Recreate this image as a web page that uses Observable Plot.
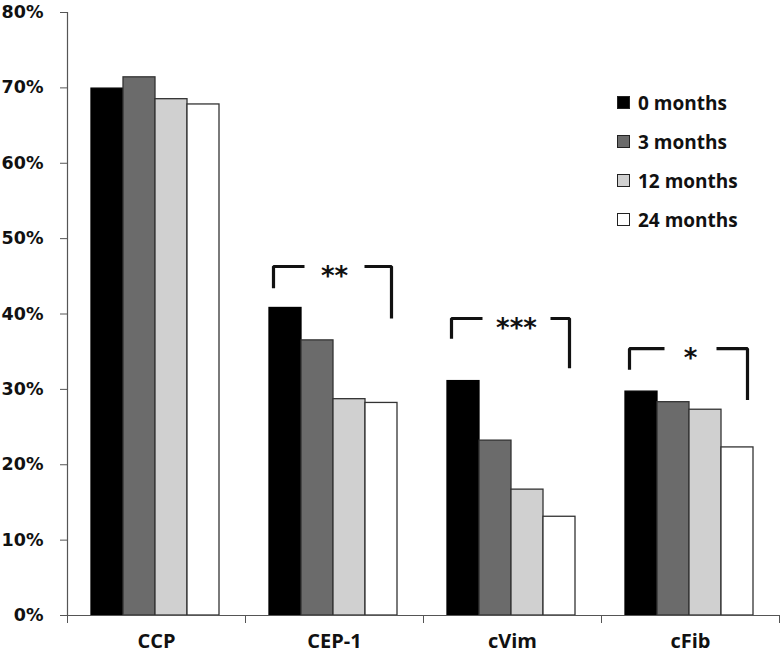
<!DOCTYPE html>
<html>
<head>
<meta charset="utf-8">
<script src="https://cdn.jsdelivr.net/npm/d3@7"></script>
<script src="https://cdn.jsdelivr.net/npm/@observablehq/plot@0.6"></script>
<style>
  html, body { margin: 0; padding: 0; background: #fff; }
  #wrap { position: relative; width: 780px; height: 656px; }
  #legend { position: absolute; left: 617px; top: 83px; font-family: "Open Sans", sans-serif; font-weight: 700; font-size: 19px; color: #111; }
  .row { display: flex; align-items: center; height: 39px; }
  .sw { width: 11px; height: 11px; border: 1px solid #222; margin-right: 8px; }
</style>
</head>
<body>
<div id="wrap"><div id="legend"></div></div>
<script>
const categories = ["CCP", "CEP-1", "cVim", "cFib"];
const series = ["0 months", "3 months", "12 months", "24 months"];
const months0 = [69.9, 40.8, 31.1, 29.7];
const months3 = [71.4, 36.5, 23.2, 28.3];
const months12 = [68.5, 28.7, 16.7, 27.3];
const months24 = [67.8, 28.2, 13.1, 22.3];
const yTicks = [0, 10, 20, 30, 40, 50, 60, 70, 80];

const sigCategories = ["CEP-1", "cVim", "cFib"];
const sigLabels = ["**", "***", "*"];
const bracketTop = [46.3, 39.4, 35.4];
const bracketLeftEnd = [43.4, 36.7, 32.6];
const bracketRightEnd = [39.4, 32.8, 28.6];

const seriesValues = [months0, months3, months12, months24];
const colors = ["#000000", "#6b6b6b", "#d0d0d0", "#ffffff"];

// layout in category units (one category = 1)
const bw = 32 / 178, pad = 24 / 178;

const rows = categories.flatMap((c, i) => series.map((s, j) => ({cat: c, ci: i, s, sj: j, value: seriesValues[j][i]})));

const bracketLines = [];
const starText = [];
sigCategories.forEach((c, k) => {
  const ci = categories.indexOf(c);
  const xl = ci + pad + 4 / 178;
  const xr = ci + pad + 4 * bw - 6 / 178;
  const xc = ci + 0.5 + (sigLabels[k].length === 3 ? 4 / 178 : 0);
  const gap = (22 + 4 * sigLabels[k].length) / 178;
  bracketLines.push({k, side: "L", x: xl, y: bracketLeftEnd[k]});
  bracketLines.push({k, side: "L", x: xl, y: bracketTop[k]});
  bracketLines.push({k, side: "L", x: xc - gap, y: bracketTop[k]});
  bracketLines.push({k, side: "R", x: xc + gap, y: bracketTop[k]});
  bracketLines.push({k, side: "R", x: xr, y: bracketTop[k]});
  bracketLines.push({k, side: "R", x: xr, y: bracketRightEnd[k]});
  starText.push({x: xc, y: bracketTop[k], label: sigLabels[k]});
});

const chart = Plot.plot({
  width: 780,
  height: 656,
  marginLeft: 67,
  marginRight: 1,
  marginTop: 12,
  marginBottom: 41,
  style: {fontFamily: "'Open Sans', sans-serif", background: "#fff", color: "#111"},
  x: {domain: [0, 4], axis: null},
  y: {domain: [0, 80], axis: null},
  color: {domain: series, range: colors},
  marks: [
    Plot.rectY(rows, {
      x1: d => d.ci + pad + d.sj * bw,
      x2: d => d.ci + pad + (d.sj + 1) * bw,
      y: "value",
      fill: "s",
      stroke: d => d.sj === 0 ? "#000" : "#333",
      strokeWidth: 1.3
    }),
    Plot.ruleX([0], {stroke: "#555", strokeWidth: 1.2}),
    Plot.ruleY([0], {stroke: "#555", strokeWidth: 1.2}),
    Plot.axisY({ticks: yTicks, tickSize: 7, tickPadding: 17, tickFormat: d => d + "%", label: null,
      fontFamily: "DejaVu Sans", fontWeight: "bold", fontSize: 17.5, stroke: "#555", fill: "#111"}),
    Plot.axisX({ticks: [0, 1, 2, 3, 4], tickSize: 8, tickFormat: () => "", label: null, stroke: "#555"}),
    Plot.axisX({ticks: categories.map((c, i) => i + 0.5), tickSize: 0, tickPadding: 18, label: null,
      tickFormat: d => categories[Math.floor(d)], fontWeight: "bold", fontSize: 20, fill: "#111"}),
    Plot.line(bracketLines, {x: "x", y: "y", z: d => d.k + d.side, stroke: "#111", strokeWidth: 3.2, strokeLinejoin: "miter", strokeLinecap: "butt"}),
    Plot.text(starText, {x: "x", y: "y", text: "label", fontSize: 26, fontWeight: "bold", fontFamily: "DejaVu Sans", fill: "#111", lineAnchor: "top", dy: 0})
  ]
});

document.getElementById("wrap").prepend(chart);

const legend = document.getElementById("legend");
series.forEach((s, j) => {
  const row = document.createElement("div");
  row.className = "row";
  const sw = document.createElement("div");
  sw.className = "sw";
  sw.style.background = colors[j];
  const t = document.createElement("span");
  t.textContent = s;
  row.appendChild(sw);
  row.appendChild(t);
  legend.appendChild(row);
});
</script>
</body>
</html>
